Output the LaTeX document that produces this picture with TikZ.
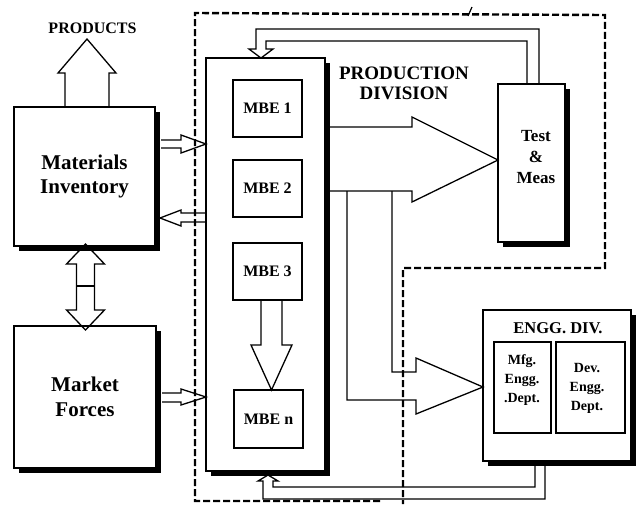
\documentclass[tikz,border=0pt]{standalone}
\usepackage{fontspec}
\setmainfont{Liberation Serif}
\usetikzlibrary{shadows}
\tikzset{
  box/.style={draw, line width=1.5pt, fill=white, inner sep=0pt, align=center, font=\bfseries},
  shbox/.style={box, drop shadow={shadow xshift=5pt, shadow yshift=-5pt, fill=black, opacity=1}},
  mbe/.style={box, minimum width=69pt, minimum height=57pt, font=\bfseries\fontsize{16}{18}\selectfont},
  dept/.style={box, line width=1.3pt, minimum height=91pt},
  blockarrow/.style={draw, line width=1.3pt, line join=miter},
  boundary/.style={draw, line width=2.4pt, dash pattern=on 7pt off 3pt},
  txt/.style={inner sep=0pt, align=center, font=\bfseries},
}
\begin{document}
\begin{tikzpicture}[x=1pt,y=-1pt]
\useasboundingbox (0,0) rectangle (637,504);

% boxes
\node[shbox, minimum width=141pt, minimum height=139pt, font=\bfseries\fontsize{21}{24}\selectfont] (mat) at (84.5,176.5) {Materials\\Inventory};
\node[shbox, minimum width=142pt, minimum height=142pt, font=\bfseries\fontsize{21}{25}\selectfont] (mkt) at (85,397) {Market\\Forces};
\node[shbox, minimum width=119pt, minimum height=413pt] (prod) at (265.5,264.5) {};
\node[txt, font=\bfseries\fontsize{19}{20}\selectfont] (pdtext) at (404,83) {PRODUCTION\\DIVISION};
\node[shbox, minimum width=67pt, minimum height=158pt] (test) at (531.5,163) {};
\node[txt, font=\bfseries\fontsize{17}{21}\selectfont] (testtext) at (536,157) {Test\\\&\\Meas};
\node[shbox, minimum width=148pt, minimum height=151pt] (engg) at (557,385.5) {};
\node[txt, font=\bfseries\fontsize{16.5}{18}\selectfont] (enggtext) at (558,328) {ENGG. DIV.};
\node[dept, minimum width=57pt] (mfg) at (522.5,387.5) {};
\node[txt, font=\bfseries\fontsize{14}{19}\selectfont] (mfgtext) at (522,380) {Mfg.\\Engg.\\.Dept.};
\node[dept, minimum width=69pt] (dev) at (590.5,387.5) {};
\node[txt, font=\bfseries\fontsize{14}{19}\selectfont] (devtext) at (587,388) {Dev.\\Engg.\\Dept.};

\node[mbe] (mbe1) at (267.5,108.5) {MBE 1};
\node[mbe] (mbe2) at (267.5,188.5) {MBE 2};
\node[mbe] (mbe3) at (267.5,271.5) {MBE 3};
\node[mbe, minimum height=58pt] (mben) at (268.5,419) {MBE n};

\node[txt, font=\bfseries\fontsize{16}{18}\selectfont] (products) at (92.5,28.5) {PRODUCTS};

% block arrows
\draw[blockarrow] (65,107) -- (65,73) -- (58,73) -- (87,39) -- (116,73) -- (109,73) -- (109,107);
\draw[blockarrow] (85.5,244) -- (104.5,264) -- (94.5,264) -- (94.5,310) -- (104.5,310) -- (85.5,330) -- (66.5,310) -- (76.5,310) -- (76.5,264) -- (66.5,264) -- cycle;
\draw[blockarrow] (76.5,286) -- (94.5,286);

\draw[blockarrow] (161,140) -- (181,140) -- (181,135) -- (206,144) -- (181,153) -- (181,148) -- (161,148);
\draw[blockarrow] (206,213) -- (181,213) -- (181,210) -- (160,218) -- (181,226) -- (181,222) -- (206,222);
\draw[blockarrow] (162,393) -- (181,393) -- (181,389) -- (206,397) -- (181,405) -- (181,402) -- (162,402);

\draw[blockarrow] (261,300) -- (261,345) -- (251,345) -- (271.5,390) -- (292,345) -- (282,345) -- (282,300);

\draw[blockarrow] (330,127) -- (412,127) -- (412,117) -- (498,160) -- (412,202) -- (412,191) -- (330,191);
\draw[blockarrow] (347,191) -- (347,400) -- (416,400) -- (416,414) -- (483,387) -- (416,358) -- (416,372) -- (392,372) -- (392,191);

\draw[blockarrow] (539,84) -- (539,29) -- (256,29) -- (256,49) -- (249,49) -- (261,58) -- (273,49) -- (266,49) -- (266,41) -- (527,41) -- (527,84);
\draw[blockarrow] (535,466) -- (535,487) -- (273,487) -- (273,481) -- (278,481) -- (268,475) -- (258,481) -- (263,481) -- (263,499) -- (545,499) -- (545,466);

% dashed boundary
\draw[boundary] (380,501) -- (195,501) -- (195,13) -- (605,15) -- (605,268) -- (403,268) -- (403,504);
\draw[line width=1.2pt] (468,16) -- (472,7);
\end{tikzpicture}
\end{document}
